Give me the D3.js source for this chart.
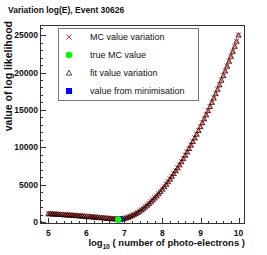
<!DOCTYPE html>
<html><head><meta charset="utf-8">
<script src="https://cdn.jsdelivr.net/npm/d3@7"></script>
<style>body{margin:0;background:#fff}svg{display:block}text{font-family:"Liberation Sans",Arial,sans-serif}</style>
</head><body>
<script>
const logE = [5.00,5.05,5.10,5.15,5.20,5.25,5.30,5.35,5.40,5.45,5.50,5.55,5.60,5.65,5.70,5.75,5.80,5.85,5.90,5.95,
6.00,6.05,6.10,6.15,6.20,6.25,6.30,6.35,6.40,6.45,6.50,6.55,6.60,6.65,6.70,6.75,6.80,6.85,6.90,6.95,
7.00,7.05,7.10,7.15,7.20,7.25,7.30,7.35,7.40,7.45,7.50,7.55,7.60,7.65,7.70,7.75,7.80,7.85,7.90,7.95,
8.00,8.05,8.10,8.15,8.20,8.25,8.30,8.35,8.40,8.45,8.50,8.55,8.60,8.65,8.70,8.75,8.80,8.85,8.90,8.95,
9.00,9.05,9.10,9.15,9.20,9.25,9.30,9.35,9.40,9.45,9.50,9.55,9.60,9.65,9.70,9.75,9.80,9.85,9.90,9.95,10.00];
const mcValues = [1120,1105,1090,1075,1060,1045,1030,1012,995,978,960,942,924,905,886,866,846,826,805,784,
763,742,720,698,676,654,631,608,585,562,539,516,493,470,448,428,412,405,408,425,
503,572,657,757,871,999,1140,1295,1463,1643,1836,2041,2257,2486,2727,2979,3243,3518,3804,4101,
4410,4729,5060,5401,5752,6114,6486,6868,7260,7662,8074,8493,8934,9381,9837,10302,10769,11257,11750,12251,
12762,13279,13804,14343,14892,15449,16011,16585,17167,17758,18360,18971,19590,20220,20856,21505,22162,22826,23498,24182,25000];
const fitValues = [1118,1104,1089,1074,1059,1044,1029,1011,994,977,959,941,923,904,885,865,845,825,804,783,
762,741,719,697,675,653,630,607,584,561,538,515,492,469,447,427,411,404,407,424,
502,571,656,756,870,998,1139,1294,1462,1642,1835,2040,2256,2485,2726,2978,3242,3517,3803,4100,
4409,4728,5059,5400,5751,6113,6485,6867,7259,7661,8073,8492,8933,9380,9836,10301,10768,11256,11749,12250,
12761,13278,13803,14342,14891,15448,16010,16584,17166,17757,18359,18970,19589,20219,20855,21504,22161,22825,23497,24181,24999];
const trueMC = {x: 6.84, y: 350};
const minimised = {x: 6.88, y: 390};
const xTicks = [5,6,7,8,9,10];
const yTicks = [0,5000,10000,15000,20000,25000];
const legendLabels = ["MC value variation","true MC value","fit value variation","value from minimisation"];
const titleText = "Variation log(E), Event 30626";

const W=267,H=255;
const L=40,R=245,T=25,B=224;
const svg=d3.select("body").append("svg").attr("width",W).attr("height",H);
const x=d3.scaleLinear().domain([4.78,10.17]).range([L,R]);
const y=d3.scaleLinear().domain([-250,26350]).range([B,T]);

svg.append("rect").attr("x",L+0.5).attr("y",T+0.5).attr("width",R-L-1).attr("height",B-T-1)
  .attr("fill","none").attr("stroke","#333").attr("stroke-width",1);

const xMinor=d3.range(4.8,10.17,0.2);
const gx=svg.append("g");
xMinor.forEach(v=>{const px=Math.round(x(v))+0.5;
  gx.append("line").attr("x1",px).attr("x2",px).attr("y1",B).attr("y2",B-3).attr("stroke","#333");});
xTicks.forEach(v=>{const px=Math.round(x(v))+0.5;
  gx.append("line").attr("x1",px).attr("x2",px).attr("y1",B).attr("y2",B-6).attr("stroke","#333");
  gx.append("text").attr("x",x(v)).attr("y",B+12).attr("text-anchor","middle")
    .attr("font-size","8.5px").attr("font-weight","bold").attr("fill","#111").text(v);});
const yMinor=d3.range(0,26001,1000);
const gy=svg.append("g");
yMinor.forEach(v=>{const py=Math.round(y(v))+0.5;
  gy.append("line").attr("x1",L).attr("x2",L+3).attr("y1",py).attr("y2",py).attr("stroke","#333");});
yTicks.forEach(v=>{const py=Math.round(y(v))+0.5;
  gy.append("line").attr("x1",L).attr("x2",L+6).attr("y1",py).attr("y2",py).attr("stroke","#333");
  gy.append("text").attr("x",L-2).attr("y",y(v)+3).attr("text-anchor","end")
    .attr("font-size","8.5px").attr("font-weight","bold").attr("fill","#111").text(v);});

const gd=svg.append("g");
const cs=2.6;
logE.forEach((v,i)=>{const cx=x(v),cy=y(mcValues[i]);
  gd.append("path").attr("d",`M${cx-cs},${cy-cs}L${cx+cs},${cy+cs}M${cx-cs},${cy+cs}L${cx+cs},${cy-cs}`)
   .attr("stroke","#ff0000").attr("stroke-width",0.8).attr("fill","none");});
const tri=(cx,cy,s)=>`M${cx},${cy-s}L${cx+s*0.95},${cy+s*0.75}L${cx-s*0.95},${cy+s*0.75}Z`;
logE.forEach((v,i)=>{
  gd.append("path").attr("d",tri(x(v),y(fitValues[i]),2.6))
   .attr("stroke","#000").attr("stroke-width",0.7).attr("fill","none");});
gd.append("rect").attr("x",x(minimised.x)-3).attr("y",y(minimised.y)-3).attr("width",6).attr("height",6).attr("fill","#0000ff");
gd.append("circle").attr("cx",x(trueMC.x)).attr("cy",y(trueMC.y)).attr("r",3.3).attr("fill","#00ff00");

const lg=svg.append("g");
lg.append("rect").attr("x",58.5).attr("y",28.5).attr("width",140).attr("height",72).attr("fill","#fff").attr("stroke","#777");
const rows=[37,55,73,91];
legendLabels.forEach((t,i)=>{
  lg.append("text").attr("x",90).attr("y",rows[i]+3.2).attr("font-size","9px").attr("fill","#111").text(t);});
{const cx=69,cy=rows[0];
 lg.append("path").attr("d",`M${cx-cs},${cy-cs}L${cx+cs},${cy+cs}M${cx-cs},${cy+cs}L${cx+cs},${cy-cs}`).attr("stroke","#ff0000").attr("stroke-width",0.8);}
lg.append("circle").attr("cx",69).attr("cy",rows[1]).attr("r",3.3).attr("fill","#00ff00");
lg.append("path").attr("d",tri(69,rows[2],2.8)).attr("stroke","#000").attr("stroke-width",0.7).attr("fill","none");
lg.append("rect").attr("x",66).attr("y",rows[3]-3).attr("width",6).attr("height",6).attr("fill","#0000ff");

svg.append("text").attr("x",8).attr("y",13).attr("font-size","8.5px").attr("font-weight","bold").attr("fill","#111").text(titleText);
const xl=svg.append("text").attr("x",245).attr("y",246).attr("text-anchor","end").attr("font-size","9.5px").attr("font-weight","bold").attr("fill","#111");
xl.append("tspan").text("log");
xl.append("tspan").attr("dy",2.5).attr("font-size","6.5px").text("10");
xl.append("tspan").attr("dy",-2.5).text(" ( number of photo-electrons )");
svg.append("text").attr("transform","translate(12,21) rotate(-90)").attr("text-anchor","end")
  .attr("font-size","10.5px").attr("font-weight","bold").attr("fill","#111").text("value of log likelihood");
</script>
</body></html>
